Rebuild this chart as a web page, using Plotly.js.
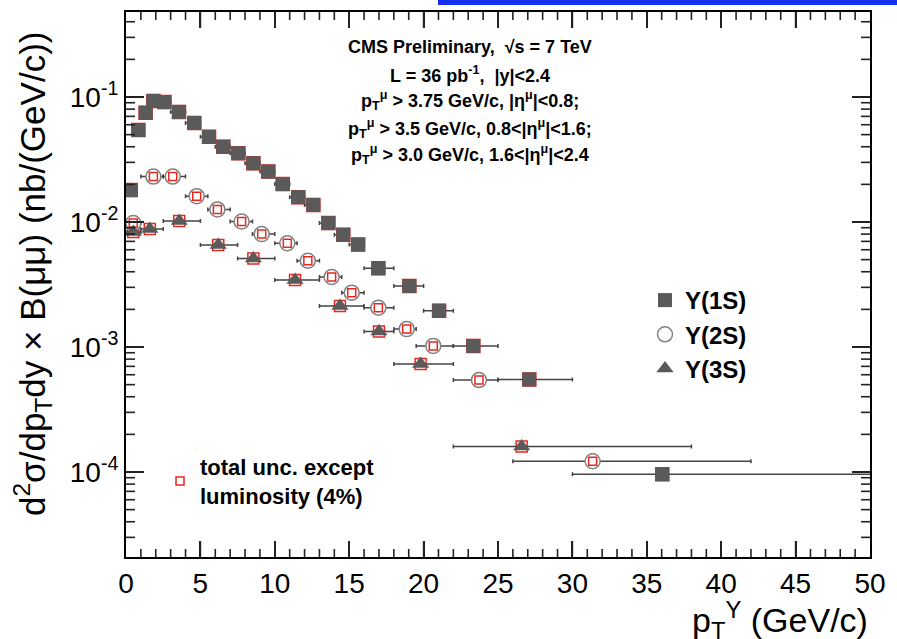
<!DOCTYPE html>
<html>
<head>
<meta charset="utf-8">
<script src="https://cdn.plot.ly/plotly-3.0.1.min.js"></script>
<style>html,body{margin:0;padding:0;background:#fff;}#chart{width:897px;height:639px;}</style>
</head>
<body>
<div id="chart"></div>
<script>
// ---- data ----
// Upsilon(1S)
const pt1S = [0.32,0.83,1.32,1.84,2.58,3.56,4.59,5.58,6.54,7.55,8.56,9.56,10.53,11.58,12.59,13.6,14.6,15.6,16.96,19.04,21.04,23.34,27.1,36.04];
const lo1S = [0,0.5,1,1.5,2,3,4,5,6,7,8,9,10,11,12,13,14,15,16,18,20,22,25,30];
const hi1S = [0.5,1,1.5,2,3,4,5,6,7,8,9,10,11,12,13,14,15,16,18,20,22,25,30,60];
const xs1S = [0.018,0.0545,0.0748,0.093,0.091,0.076,0.062,0.048,0.040,0.0355,0.0295,0.0253,0.0201,0.0158,0.0137,0.0098,0.0079,0.0066,0.00427,0.00308,0.00195,0.00102,0.00055,0.000096];
// Upsilon(2S)
const pt2S = [0.49,1.84,3.14,4.75,6.14,7.77,9.12,10.84,12.22,13.82,15.17,16.96,18.86,20.65,23.72,31.36];
const lo2S = [0,1,2.5,4,5.5,7,8.5,10,11.5,13,14.5,16,18,19.5,22,26];
const hi2S = [1,2.5,4,5.5,7,8.5,10,11.5,13,14.5,16,18,19.5,22,25,42];
const xs2S = [0.0098,0.0231,0.0231,0.0161,0.0126,0.0101,0.0080,0.00676,0.0049,0.00363,0.00272,0.00206,0.00139,0.00102,0.000544,0.000122];
// Upsilon(3S)
const pt3S = [0.49,1.6,3.58,6.2,8.56,11.36,14.38,17.0,19.8,26.59];
const lo3S = [0,1,2.5,5,7.5,10,13,16,18,22];
const hi3S = [1,2.5,5,7.5,10,13,16,18,22,38];
const xs3S = [0.0083,0.0088,0.0102,0.00655,0.0051,0.00344,0.00213,0.00133,0.00073,0.00016];

const xTickVals = [0,5,10,15,20,25,30,35,40,45,50];
const yTickVals = [1e-4,1e-3,1e-2,1e-1];
const yTickText = ['10<sup>-4</sup>','10<sup>-3</sup>','10<sup>-2</sup>','10<sup>-1</sup>'];
const infoLines = [
  'CMS Preliminary,  √s = 7 TeV',
  'L = 36 pb<sup>-1</sup>,  |y|&lt;2.4',
  'p<sub>T</sub><sup>μ</sup> &gt; 3.75 GeV/c, |η<sup>μ</sup>|&lt;0.8;',
  'p<sub>T</sub><sup>μ</sup> &gt; 3.5 GeV/c, 0.8&lt;|η<sup>μ</sup>|&lt;1.6;',
  'p<sub>T</sub><sup>μ</sup> &gt; 3.0 GeV/c, 1.6&lt;|η<sup>μ</sup>|&lt;2.4'
];

// ---- geometry helpers (pixel -> paper) ----
const PL = 126, PR = 870, PT = 12, PB = 557;
const W = PR - PL, H = PB - PT;
const px = p => (p - PL) / W;
const py = p => (PB - p) / H;
const YR = [-4.68, -0.32];
const yPaper = v => (Math.log10(v) - YR[0]) / (YR[1] - YR[0]);

const GREY = '#5a5a5a';
const RED = '#e8261e';
function errX(pt, lo, hi) {
  return {type:'data', symmetric:false,
    array: pt.map((v,i)=>hi[i]-v), arrayminus: pt.map((v,i)=>v-lo[i]),
    color:'#444', thickness:1.5, width:2};
}
function redBoxes(pt, xs, show, size) {
  return {x:pt, y:xs, mode:'markers', type:'scatter', legend:'legend2',
    name:'total unc. except<br>luminosity (4%)', showlegend:show, hoverinfo:'skip',
    marker:{symbol:'square-open', size:size, color:RED, line:{width:1.5, color:RED}}};
}

const traces = [
  redBoxes(pt1S, xs1S, false, 13),
  redBoxes(pt3S, xs3S, false, 11),
  {x:pt1S, y:xs1S, name:'Υ(1S)', mode:'markers', type:'scatter', error_x:errX(pt1S,lo1S,hi1S),
   marker:{symbol:'square', size:14, color:GREY, line:{width:0}}},
  {x:pt2S, y:xs2S, name:'Υ(2S)', mode:'markers', type:'scatter', error_x:errX(pt2S,lo2S,hi2S),
   marker:{symbol:'circle', size:15, color:'#ffffff', line:{width:1.5, color:'#808080'}}},
  redBoxes(pt2S, xs2S, true, 8),
  {x:pt3S, y:xs3S, name:'Υ(3S)', mode:'markers', type:'scatter', error_x:errX(pt3S,lo3S,hi3S),
   marker:{symbol:'triangle-up', size:15, color:GREY, line:{width:0}}}
];

// tick marks (major + minor) on all four sides of the frame
const yMinor = [];
for (let e=-5; e<=0; e++) for (let m=2; m<=9; m++) yMinor.push(m*Math.pow(10,e));
const xMinor = [];
for (let v=0; v<=50; v++) if (v%5) xMinor.push(v);

const shapes = [];
const tickLine = {color:'#222', width:1.6};
function xTick(v, len) {
  const xp = v / 50;
  shapes.push({type:'line', layer:'above', xref:'paper', yref:'paper', x0:xp, x1:xp, y0:0, y1:len/H, line:tickLine});
  shapes.push({type:'line', layer:'above', xref:'paper', yref:'paper', x0:xp, x1:xp, y0:1, y1:1-len/H, line:tickLine});
}
function yTick(v, len) {
  const yp = yPaper(v);
  if (yp <= 0.002 || yp >= 0.998) return;
  shapes.push({type:'line', layer:'above', xref:'paper', yref:'paper', x0:0, x1:len/W, y0:yp, y1:yp, line:tickLine});
  shapes.push({type:'line', layer:'above', xref:'paper', yref:'paper', x0:1, x1:1-len/W, y0:yp, y1:yp, line:tickLine});
}
xTickVals.filter(v=>v>0 && v<50).forEach(v=>xTick(v,16));
xMinor.forEach(v=>xTick(v,8));
yTickVals.forEach(v=>yTick(v,18));
yMinor.forEach(v=>yTick(v,9));
shapes.push({type:'rect', xref:'paper', yref:'paper', x0:px(438), x1:px(897), y0:py(5), y1:py(-20),
  fillcolor:'#1530f0', line:{width:0}});

const FONT = 'Liberation Sans, Arial, sans-serif';
const annotations = infoLines.map((t,i)=>({
  text:'<b>'+t+'</b>', xref:'paper', yref:'paper', x:px(470), y:py(47+27*i),
  xanchor:'center', yanchor:'middle', showarrow:false, font:{family:FONT, size:18, color:'#000'}
}));
annotations.push({text:'d<sup>2</sup>σ/dp<sub>T</sub>dy × B(μμ) (nb/(GeV/c))', textangle:-90,
  xref:'paper', yref:'paper', x:px(32), y:py(274), xanchor:'center', yanchor:'middle',
  showarrow:false, font:{family:FONT, size:35, color:'#000'}});
annotations.push({text:'p<sub>T</sub><sup>Υ</sup> (GeV/c)',
  xref:'paper', yref:'paper', x:1.0, y:py(620), xanchor:'right', yanchor:'middle',
  showarrow:false, font:{family:FONT, size:34, color:'#000'}});

const layout = {
  width:897, height:639, margin:{l:PL, r:897-PR, t:PT, b:639-PB},
  paper_bgcolor:'#fff', plot_bgcolor:'#fff',
  font:{family:FONT, color:'#000'},
  showlegend:true,
  xaxis:{range:[0,50], tickvals:xTickVals, ticks:'inside', ticklen:16, tickwidth:2, tickcolor:'#222',
    showline:true, linecolor:'#000', linewidth:2, mirror:'allticks', showgrid:false, zeroline:false,
    tickfont:{size:28, family:FONT, color:'#000'}},
  yaxis:{type:'log', range:YR, tickvals:yTickVals, ticktext:yTickText, ticks:'inside', ticklen:18,
    tickwidth:2, tickcolor:'#222', showline:true, linecolor:'#000', linewidth:2, mirror:'allticks',
    showgrid:false, zeroline:false, tickfont:{size:28, family:FONT, color:'#000'}},
  legend:{x:px(645), y:py(278), xanchor:'left', yanchor:'top', bgcolor:'rgba(0,0,0,0)',
    font:{family:FONT, size:24, color:'#000', weight:'bold'}},
  legend2:{x:px(160), y:py(446), xanchor:'left', yanchor:'top', bgcolor:'rgba(0,0,0,0)',
    font:{family:FONT, size:22, color:'#000', weight:'bold'}},
  annotations:annotations,
  shapes:shapes
};

Plotly.newPlot('chart', traces, layout, {displayModeBar:false});
</script>
</body>
</html>
